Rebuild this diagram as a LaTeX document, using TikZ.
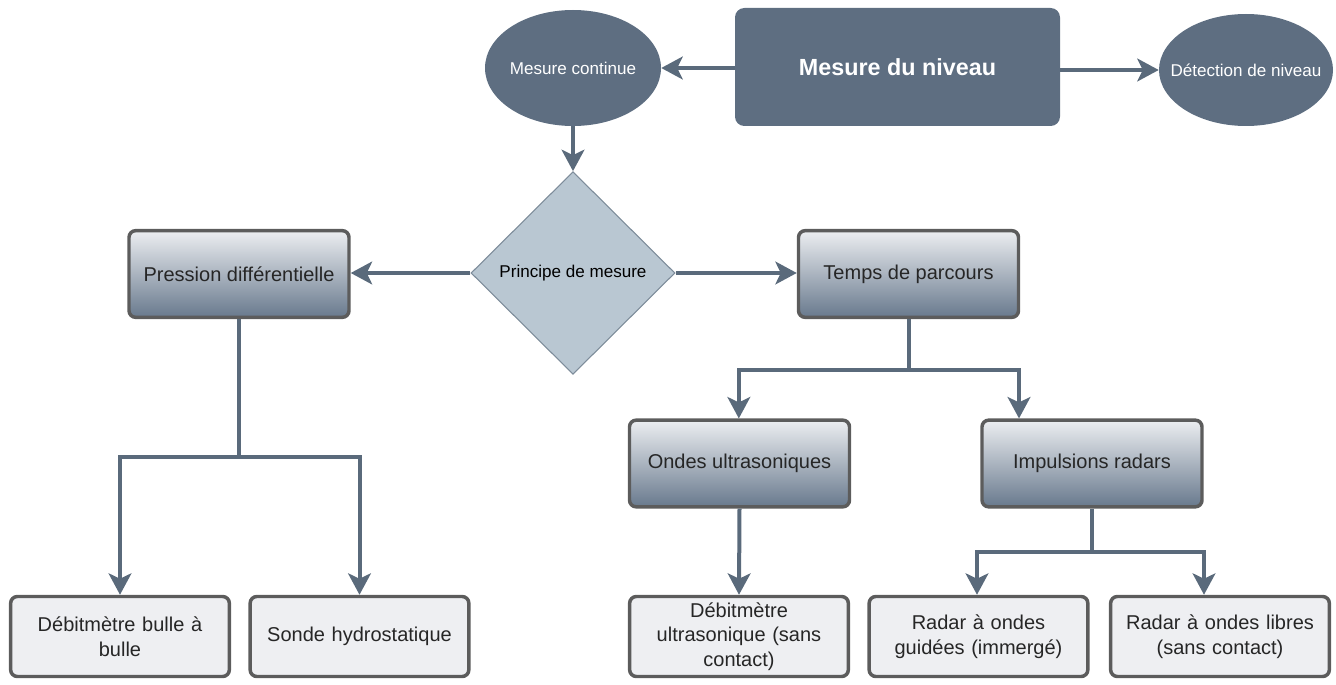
\documentclass[tikz,border=0pt]{standalone}
\usepackage{fontspec}
\setmainfont{Liberation Sans}
\usetikzlibrary{shapes.geometric,arrows.meta}
\definecolor{slate}{HTML}{5E6E81}
\definecolor{arrowc}{HTML}{5A6A7B}
\definecolor{edgec}{HTML}{5C5C5C}
\definecolor{diafill}{HTML}{B9C7D2}
\definecolor{diaedge}{HTML}{7D8C9A}
\definecolor{gradtop}{HTML}{ECEEF1}
\definecolor{gradbot}{HTML}{68798D}
\definecolor{leaffill}{HTML}{EEEFF2}
% text that does not widen its ellipse
\newcommand{\snug}[1]{\makebox[0pt]{#1}}
\tikzset{
  topbox/.style={rectangle, rounded corners=7pt, fill=slate, draw=none,
    minimum width=243.75pt, minimum height=88.5pt, text=white,
    font=\bfseries\fontsize{17.5}{20}\selectfont},
  oval/.style={ellipse, fill=slate, draw=none, text=white, inner sep=0pt,
    font=\fontsize{12.8}{15}\selectfont},
  decision/.style={diamond, aspect=1, fill=diafill, draw=diaedge, line width=0.8pt,
    inner sep=0pt, minimum width=153pt, minimum height=152pt,
    font=\fontsize{12.8}{15}\selectfont},
  gradbox/.style={rectangle, rounded corners=5pt, top color=gradtop, bottom color=gradbot,
    draw=edgec, line width=2.6pt, minimum width=165pt, minimum height=65pt,
    font=\fontsize{15}{18}\selectfont, text=black!85},
  leaf/.style={rectangle, rounded corners=5pt, fill=leaffill,
    draw=edgec, line width=2.6pt, minimum width=164pt, minimum height=60pt,
    align=center, text width=150pt,
    font=\fontsize{15}{18.5}\selectfont, text=black!85},
  link/.style={draw=arrowc, line width=3pt},
  arr/.style={link, -{Stealth[length=16pt, width=17pt, inset=4pt]}},
}
\begin{document}
\begin{tikzpicture}[x=0.75pt, y=-0.75pt]
\useasboundingbox (0,0) rectangle (1336,685);

% top row
\node[topbox] (mdn) at (897.5,67) {Mesure du niveau};
\node[oval, minimum width=132pt, minimum height=87pt] (mc) at (573,68) {\snug{Mesure continue}};
\node[oval, minimum width=130.5pt, minimum height=84pt] (dn) at (1246,70) {\snug{Détection de niveau}};

% measuring principle
\node[decision] (pm) at (573,273) {\snug{Principe de mesure}};

% second level
\node[gradbox] (pd) at (239,274) {Pression différentielle};
\node[gradbox] (tp) at (908.5,274) {Temps de parcours};
\node[gradbox] (ou) at (739.5,463.5) {Ondes ultrasoniques};
\node[gradbox] (ir) at (1092,463.5) {Impulsions radars};

% leaves
\node[leaf] (dbb) at (120,636.5) {Débitmètre bulle à\\bulle};
\node[leaf] (sh) at (359.5,636.5) {Sonde hydrostatique};
\node[leaf] (du) at (739,636.5) {Débitmètre\\ultrasonique (sans\\contact)};
\node[leaf] (rg) at (978.5,636.5) {Radar à ondes\\guidées (immergé)};
\node[leaf] (rl) at (1220,636.5) {Radar à ondes libres\\(sans contact)};

% junctions
\coordinate (jpd) at (239,457);
\coordinate (jtp) at (908.5,370);
\coordinate (jir) at (1092,552);

% connectors
\draw[arr] (mdn.west |- mc.east) -- (mc.east);
\draw[arr] (mdn.east |- dn.west) -- (dn.west);
\draw[arr] (mc.south) -- (pm.north);
\draw[arr] (pm.west) -- (pd.east |- pm.west);
\draw[arr] (pm.east) -- (tp.west |- pm.east);

\draw[link] (pd.south) -- (jpd);
\draw[arr] (jpd) -| (dbb.north);
\draw[arr] (jpd) -| (sh.north);

\draw[link] (tp.south) -- (jtp);
\draw[arr] (jtp) -| ([xshift=-0.5pt]ou.north);
\draw[arr] (jtp) -| (ir.north -| 1019,0);

\draw[arr] (ou.south) -- (du.north);

\draw[link] (ir.south) -- (jir);
\draw[arr] (jir) -| (rg.north -| 977,0);
\draw[arr] (jir) -| (rl.north -| 1204,0);
\end{tikzpicture}
\end{document}
